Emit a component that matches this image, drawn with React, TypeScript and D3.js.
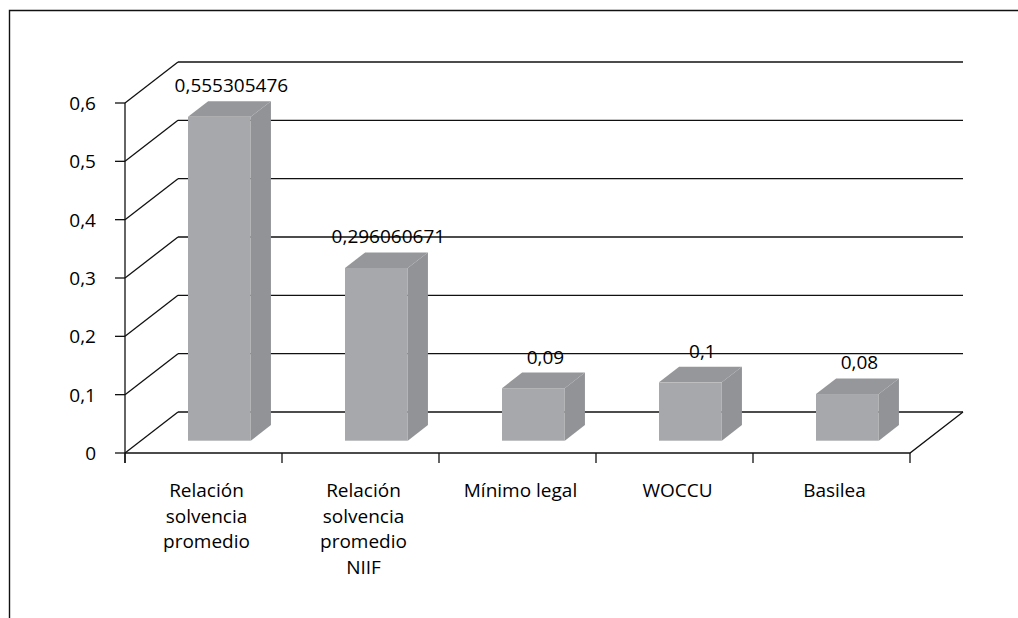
import React from "react";
import * as d3 from "d3";

const categories = [
  ["Relación", "solvencia", "promedio"],
  ["Relación", "solvencia", "promedio", "NIIF"],
  ["Mínimo legal"],
  ["WOCCU"],
  ["Basilea"],
];
const values = [0.555305476, 0.296060671, 0.09, 0.1, 0.08];
const yTicks = [0, 0.1, 0.2, 0.3, 0.4, 0.5, 0.6];

const W = 1018;
const H = 618;
const FONT = "'Open Sans', sans-serif";
const FS = 19;

const locale = d3.formatLocale({
  decimal: ",",
  thousands: ".",
  grouping: [3],
  currency: ["", ""],
});
const fmtTick = locale.format("~g");
const fmtValue = (v: number) => String(v).replace(".", ",");

const App: React.FC = () => {
  const ref = React.useRef<SVGSVGElement>(null);

  React.useEffect(() => {
    const svg = d3.select(ref.current);
    svg.selectAll("*").remove();

    const left = 125,
      right = 910,
      depthX = 53,
      depthY = -41;
    const ids = categories.map((_, i) => String(i));

    const x = d3
      .scaleBand()
      .domain(ids)
      .range([left, right])
      .paddingInner(0.6)
      .paddingOuter(0.3);
    const xCat = d3.scaleBand().domain(ids).range([left, right]);
    const y = d3.scaleLinear().domain([0, 0.6]).range([453, 103]);

    const stroke = "#111";

    // frame
    svg
      .append("path")
      .attr("d", "M9.5,618 L9.5,10.5 L1018,10.5")
      .attr("fill", "none")
      .attr("stroke", stroke)
      .attr("stroke-width", 1.4);

    // back wall gridlines and left wall diagonals
    const grid = svg.append("g").attr("stroke", stroke).attr("stroke-width", 1.3);
    yTicks.forEach((t) => {
      grid
        .append("line")
        .attr("x1", left + depthX)
        .attr("x2", right + depthX)
        .attr("y1", y(t) + depthY)
        .attr("y2", y(t) + depthY);
      grid
        .append("line")
        .attr("x1", left)
        .attr("x2", left + depthX)
        .attr("y1", y(t))
        .attr("y2", y(t) + depthY);
    });
    // floor front and right edges
    grid
      .append("path")
      .attr("fill", "none")
      .attr(
        "d",
        `M${left},${y(0)} L${right},${y(0)} L${right + depthX},${y(0) + depthY}`
      );

    // y axis
    const yAxis = svg.append("g");
    yAxis
      .append("line")
      .attr("x1", left)
      .attr("x2", left)
      .attr("y1", y(0.6))
      .attr("y2", y(0) + 10)
      .attr("stroke", stroke)
      .attr("stroke-width", 1.3);
    yTicks.forEach((t) => {
      yAxis
        .append("line")
        .attr("x1", left - 10)
        .attr("x2", left)
        .attr("y1", y(t))
        .attr("y2", y(t))
        .attr("stroke", stroke)
        .attr("stroke-width", 1.3);
      yAxis
        .append("text")
        .attr("x", 96)
        .attr("y", y(t) + 7)
        .attr("text-anchor", "end")
        .attr("font-family", FONT)
        .attr("font-size", FS)
        .attr("fill", "#000")
        .text(fmtTick(t));
    });

    // x axis ticks and labels
    const xTickPos = [left, ...ids.map((id) => (xCat(id) ?? 0) + xCat.bandwidth())];
    xTickPos.forEach((p) => {
      svg
        .append("line")
        .attr("x1", p)
        .attr("x2", p)
        .attr("y1", y(0))
        .attr("y2", y(0) + 10)
        .attr("stroke", stroke)
        .attr("stroke-width", 1.3);
    });
    categories.forEach((lines, i) => {
      const cx = (xCat(ids[i]) ?? 0) + xCat.bandwidth() / 2 + 3;
      const txt = svg
        .append("text")
        .attr("text-anchor", "middle")
        .attr("font-family", FONT)
        .attr("font-size", FS)
        .attr("fill", "#000");
      lines.forEach((l, j) => {
        txt
          .append("tspan")
          .attr("x", cx)
          .attr("y", 497 + j * 25.5)
          .text(l);
      });
    });

    // bars
    const fr = 0.3,
      bk = 0.68;
    const fx = depthX * fr,
      fy = depthY * fr;
    const sx = depthX * (bk - fr),
      sy = depthY * (bk - fr);
    values.forEach((v, i) => {
      const x0 = (x(ids[i]) ?? 0) + fx;
      const x1 = x0 + x.bandwidth();
      const yb = y(0) + fy;
      const yt = y(v) + fy;
      const g = svg.append("g");
      g.append("path")
        .attr("d", `M${x1},${yb} L${x1 + sx},${yb + sy} L${x1 + sx},${yt + sy} L${x1},${yt} Z`)
        .attr("fill", "#929396");
      g.append("path")
        .attr("d", `M${x0},${yt} L${x0 + sx},${yt + sy} L${x1 + sx},${yt + sy} L${x1},${yt} Z`)
        .attr("fill", "#96979a");
      g.append("rect")
        .attr("x", x0)
        .attr("y", yt)
        .attr("width", x1 - x0)
        .attr("height", yb - yt)
        .attr("fill", "#a7a8ab");
      svg
        .append("text")
        .attr("x", (x0 + x1) / 2 + 12)
        .attr("y", yt + sy - 9)
        .attr("text-anchor", "middle")
        .attr("font-family", FONT)
        .attr("font-size", FS)
        .attr("fill", "#000")
        .text(fmtValue(v));
    });
  }, []);

  return (
    <svg
      ref={ref}
      width={W}
      height={H}
      style={{ position: "absolute", left: 0, top: 0, background: "#fff" }}
    />
  );
};

export default App;
